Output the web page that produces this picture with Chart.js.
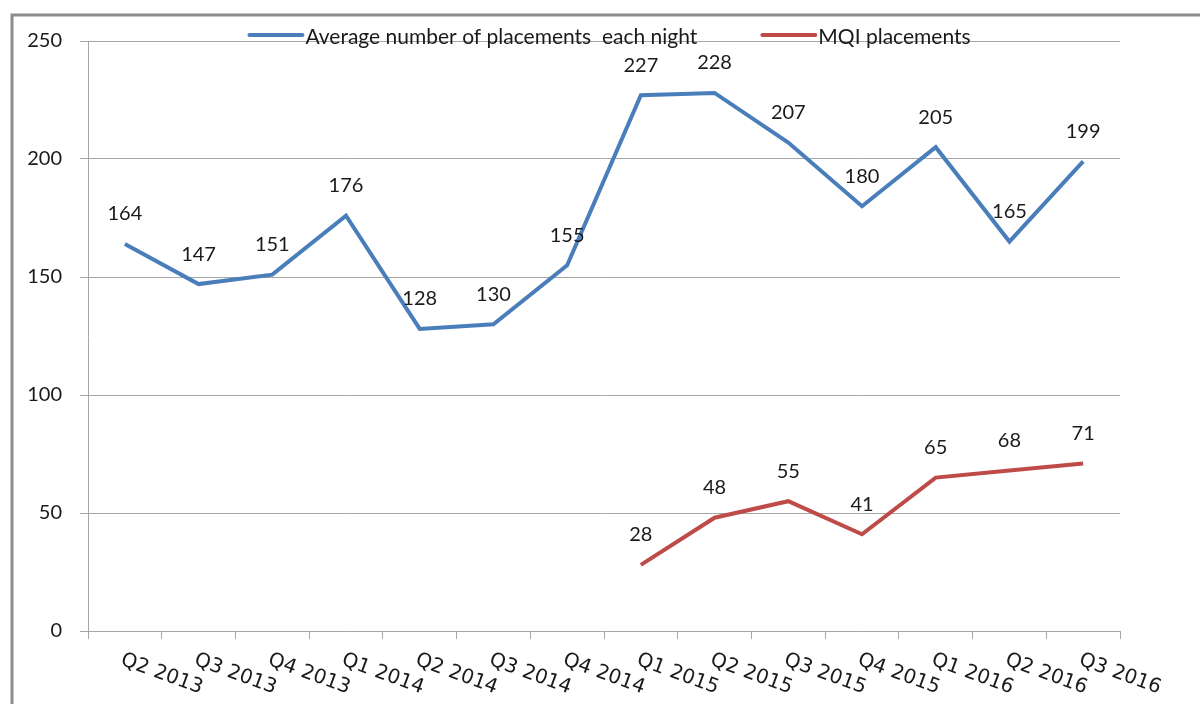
<!DOCTYPE html>
<html>
<head>
<meta charset="utf-8">
<script src="https://cdn.jsdelivr.net/npm/chart.js@4/dist/chart.umd.min.js"></script>
<style>
  html, body { margin: 0; padding: 0; background: #fff; }
  #wrap { width: 1200px; height: 704px; position: relative; }
</style>
</head>
<body>
<div id="wrap"><canvas id="lineChart" width="1200" height="704"></canvas></div>
<script>
const quarters = ["Q2 2013", "Q3 2013", "Q4 2013", "Q1 2014", "Q2 2014", "Q3 2014", "Q4 2014",
                  "Q1 2015", "Q2 2015", "Q3 2015", "Q4 2015", "Q1 2016", "Q2 2016", "Q3 2016"];
const nightly = [164, 147, 151, 176, 128, 130, 155, 227, 228, 207, 180, 205, 165, 199];
const mqi = [null, null, null, null, null, null, null, 28, 48, 55, 41, 65, 68, 71];
const yTicks = [0, 50, 100, 150, 200, 250];

const numFont = "Lato, 'Open Sans', sans-serif";

// cadre gris autour du graphique
const cadre = {
  id: 'cadre',
  beforeDraw(chart) {
    const ctx = chart.ctx;
    ctx.save();
    ctx.strokeStyle = '#8c8c8c';
    ctx.lineWidth = 3;
    ctx.beginPath();
    ctx.moveTo(12, 704);
    ctx.lineTo(12, 15);
    ctx.lineTo(1200, 15);
    ctx.stroke();
    ctx.restore();
  }
};

// etiquettes de valeurs + axe x incliné + légende
const extras = {
  id: 'extras',
  afterDatasetsDraw(chart) {
    const ctx = chart.ctx;
    const xs = chart.scales.x;
    const area = chart.chartArea;
    ctx.save();

    // valeurs au-dessus des points
    ctx.font = "20px " + numFont;
    ctx.fillStyle = '#1a1a1a';
    ctx.textAlign = 'center';
    ctx.textBaseline = 'middle';
    chart.data.datasets.forEach((ds, i) => {
      const meta = chart.getDatasetMeta(i);
      meta.data.forEach((pt, j) => {
        if (ds.data[j] == null) return;
        ctx.fillText(String(ds.data[j]), pt.x, pt.y - 30);
      });
    });

    // libellés des trimestres, inclinés vers le bas
    ctx.font = "20px 'DejaVu Sans', sans-serif";
    ctx.textAlign = 'left';
    ctx.textBaseline = 'top';
    quarters.forEach((q, i) => {
      const x = xs.getPixelForValue(i);
      ctx.save();
      ctx.translate(x, 650);
      ctx.rotate(20 * Math.PI / 180);
      ctx.fillText(q, 0, 0);
      ctx.restore();
    });

    // légende
    ctx.font = "21px " + numFont;
    ctx.textBaseline = 'middle';
    const lineLen = 53, gap = 3, between = 65;
    const items = chart.data.datasets.map(ds => ({
      label: ds.label, color: ds.borderColor, w: lineLen + gap + ctx.measureText(ds.label).width
    }));
    const total = items.reduce((s, it) => s + it.w, 0) + between * (items.length - 1);
    let x = (area.left + area.right) / 2 + 6 - total / 2;
    const y = 35;
    items.forEach(it => {
      ctx.strokeStyle = it.color;
      ctx.lineWidth = 4;
      ctx.lineCap = 'round';
      ctx.beginPath();
      ctx.moveTo(x, y);
      ctx.lineTo(x + lineLen, y);
      ctx.stroke();
      ctx.fillStyle = '#1a1a1a';
      ctx.fillText(it.label, x + lineLen + gap, y + 2);
      x += it.w + between;
    });
    ctx.restore();
  }
};

new Chart(document.getElementById('lineChart').getContext('2d'), {
  type: 'line',
  data: {
    labels: quarters,
    datasets: [{
      label: "Average number of placements  each night",
      data: nightly,
      borderColor: "#4a7ebb",
      borderWidth: 4,
      pointRadius: 0,
      tension: 0
    }, {
      label: "MQI placements",
      data: mqi,
      borderColor: "#be4b48",
      borderWidth: 4,
      pointRadius: 0,
      tension: 0
    }]
  },
  options: {
    responsive: false,
    animation: false,
    layout: { padding: { top: 41, right: 80, bottom: 0, left: 0 } },
    plugins: {
      legend: { display: false },
      tooltip: { enabled: false }
    },
    scales: {
      x: {
        offset: true,
        afterFit(scale) { scale.height = 73; },
        grid: {
          offset: true,
          drawOnChartArea: false,
          drawTicks: true,
          tickLength: 8,
          color: '#a6a6a6'
        },
        border: { display: true, color: '#a6a6a6', width: 1 },
        ticks: { display: false }
      },
      y: {
        min: 0,
        max: 250,
        afterFit(scale) { scale.width = 88; },
        afterBuildTicks(scale) { scale.ticks = yTicks.map(v => ({ value: v })); },
        grid: { color: '#a6a6a6', tickLength: 8, lineWidth: 1 },
        border: { display: true, color: '#a6a6a6', width: 1 },
        ticks: {
          color: '#1a1a1a',
          padding: 18,
          font: { family: numFont, size: 20 }
        }
      }
    }
  },
  plugins: [cadre, extras]
});
</script>
</body>
</html>
